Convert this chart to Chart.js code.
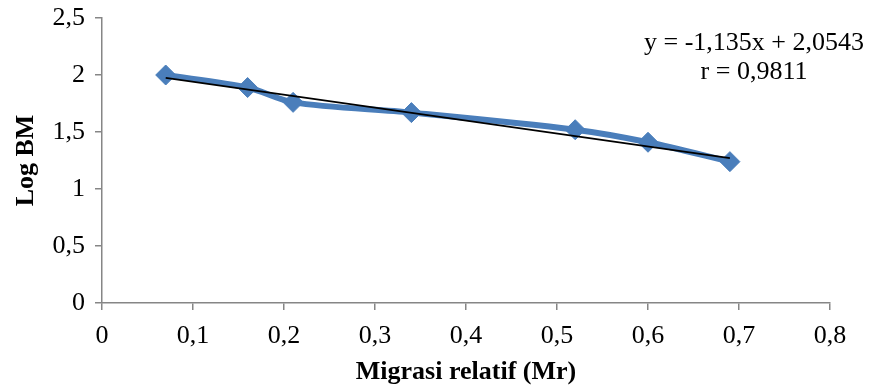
<!DOCTYPE html>
<html>
<head>
<meta charset="utf-8">
<script src="https://cdn.jsdelivr.net/npm/chart.js@4"></script>
<style>
  html, body { margin: 0; padding: 0; background: #ffffff; }
  #wrap { width: 870px; height: 390px; }
</style>
</head>
<body>
<div id="wrap"><canvas id="chart" width="870" height="390"></canvas></div>
<script>
// Relative migration (Mr) of the marker bands and their log molecular weight
const mrValues = [0.07, 0.16, 0.21, 0.34, 0.52, 0.60, 0.69];
const logBM = [2.00, 1.89, 1.76, 1.67, 1.52, 1.41, 1.24];

// Linear regression reported for the standard curve
const slope = -1.135;
const intercept = 2.0543;
const equationLines = ['y = -1,135x + 2,0543', 'r = 0,9811'];

const xTickLabels = ['0', '0,1', '0,2', '0,3', '0,4', '0,5', '0,6', '0,7', '0,8'];
const yTickLabels = ['0', '0,5', '1', '1,5', '2', '2,5'];

const xTitle = 'Migrasi relatif (Mr)';
const yTitle = 'Log BM';

const FONT = "'Liberation Serif', 'Times New Roman', serif";
const AXIS_GREY = '#868686';
const BLUE = '#4A7EBB';

const points = mrValues.map((x, i) => ({ x, y: logBM[i] }));
const xMin = Math.min(...mrValues);
const xMax = Math.max(...mrValues);
const trendPoints = [
  { x: xMin, y: slope * xMin + intercept },
  { x: xMax, y: slope * xMax + intercept }
];

const equationPlugin = {
  id: 'equationText',
  afterDatasetsDraw(chart) {
    const { ctx, chartArea } = chart;
    ctx.save();
    ctx.font = `26px ${FONT}`;
    ctx.fillStyle = '#000000';
    ctx.textAlign = 'center';
    ctx.textBaseline = 'middle';
    const cx = chartArea.right - 76;
    equationLines.forEach((line, i) => {
      ctx.fillText(line, cx, chartArea.top + 25 + i * 29);
    });
    ctx.restore();
  }
};

new Chart(document.getElementById('chart'), {
  type: 'scatter',
  data: {
    datasets: [
      {
        label: 'Linear',
        data: trendPoints,
        showLine: true,
        borderColor: '#000000',
        borderWidth: 1.8,
        pointRadius: 0,
        tension: 0,
        order: 0
      },
      {
        label: 'Log BM',
        data: points,
        showLine: true,
        borderColor: BLUE,
        borderWidth: 6,
        backgroundColor: BLUE,
        pointStyle: 'rectRot',
        pointRadius: 10,
        pointBorderWidth: 1,
        pointBorderColor: BLUE,
        pointBackgroundColor: BLUE,
        tension: 0.3,
        order: 1
      }
    ]
  },
  options: {
    responsive: false,
    animation: false,
    layout: { padding: { top: 18, right: 40, bottom: 0, left: 0 } },
    plugins: {
      legend: { display: false },
      tooltip: { enabled: false }
    },
    scales: {
      x: {
        type: 'linear',
        min: 0,
        max: 0.8,
        afterFit(scale) {
          scale.height = 87;
          scale.paddingLeft = 0;
          scale.paddingRight = 0;
        },
        border: { display: true, color: AXIS_GREY, width: 1.5 },
        grid: {
          display: true,
          drawOnChartArea: false,
          drawTicks: true,
          tickLength: 7,
          color: AXIS_GREY,
          lineWidth: 1.5
        },
        ticks: {
          stepSize: 0.1,
          padding: 11,
          color: '#000000',
          font: { family: FONT, size: 26 },
          maxRotation: 0,
          callback: (value, index) => xTickLabels[index]
        },
        title: {
          display: true,
          text: xTitle,
          color: '#000000',
          font: { family: FONT, size: 26, weight: 'bold' },
          padding: { top: 0, bottom: 2 }
        }
      },
      y: {
        type: 'linear',
        min: 0,
        max: 2.5,
        afterFit(scale) {
          scale.width = 102;
          scale.paddingTop = 0;
          scale.paddingBottom = 0;
        },
        border: { display: true, color: AXIS_GREY, width: 1.5 },
        grid: {
          display: true,
          drawOnChartArea: false,
          drawTicks: true,
          tickLength: 7,
          color: AXIS_GREY,
          lineWidth: 1.5
        },
        ticks: {
          stepSize: 0.5,
          padding: 10,
          color: '#000000',
          font: { family: FONT, size: 26 },
          callback: (value, index) => yTickLabels[index]
        },
        title: {
          display: true,
          text: yTitle,
          color: '#000000',
          font: { family: FONT, size: 26, weight: 'bold' },
          padding: { top: 11, bottom: 0 }
        }
      }
    }
  },
  plugins: [equationPlugin]
});
</script>
</body>
</html>
